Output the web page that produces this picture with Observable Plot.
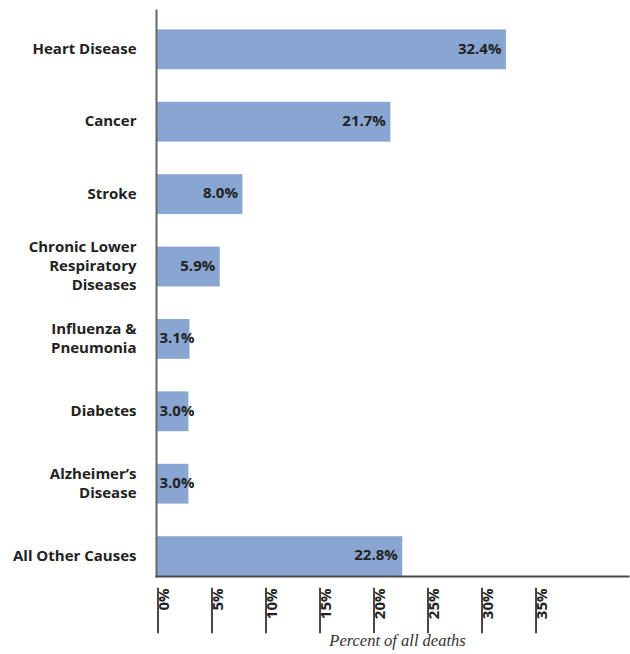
<!DOCTYPE html>
<html>
<head>
<meta charset="utf-8">
<script src="https://cdn.jsdelivr.net/npm/d3@7"></script>
<script src="https://cdn.jsdelivr.net/npm/@observablehq/plot@0.6"></script>
<style>
  html, body { margin: 0; padding: 0; background: #fff; }
  svg { display: block; }
</style>
</head>
<body>
<div id="chart"></div>
<script>
const categories = [
  "Heart Disease",
  "Cancer",
  "Stroke",
  "Chronic Lower\nRespiratory\nDiseases",
  "Influenza &\nPneumonia",
  "Diabetes",
  "Alzheimer\u2019s\nDisease",
  "All Other Causes"
];
const values = [32.4, 21.7, 8.0, 5.9, 3.1, 3.0, 3.0, 22.8];
const tickValues = [0, 5, 10, 15, 20, 25, 30, 35];
const axisTitle = "Percent of all deaths";

const data = categories.map((c, i) => ({category: c, value: values[i]}));
const fmt = v => v.toFixed(1) + "%";
const font = "'Open Sans', sans-serif";
const lineShape = {draw(context, l) { context.moveTo(0, 0); context.lineTo(0, -l); }};

const chart = Plot.plot({
  width: 630,
  height: 654,
  marginLeft: 156,
  marginRight: 2,
  marginTop: 10,
  marginBottom: 78,
  style: {fontFamily: font, background: "#fff", overflow: "visible"},
  x: {domain: [0, 43.7], axis: null},
  y: {domain: categories, paddingInner: 0.45, paddingOuter: 0.134, align: 1, round: false, axis: null},
  marks: [
    Plot.barX(data, {y: "category", x: "value", fill: "#88a6d1"}),
    Plot.frame({anchor: "left", stroke: "#666", strokeWidth: 2}),
    Plot.frame({anchor: "bottom", stroke: "#4a4a4a", strokeWidth: 2}),
    Plot.axisY({
      tickSize: 0, tickPadding: 20, fontSize: 15, fontWeight: "bold", dy: -2,
      fill: "#222", lineHeight: 1.27, label: null, fontFamily: font
    }),
    Plot.text(data.filter(d => d.value >= 4), {
      y: "category", x: "value", text: d => fmt(d.value), dy: -1,
      textAnchor: "end", dx: -5, fontSize: 15, fontWeight: "bold", fill: "#222"
    }),
    Plot.text(data.filter(d => d.value < 4), {
      y: "category", x: 0, text: d => fmt(d.value), dy: -1,
      textAnchor: "start", dx: 3, fontSize: 15, fontWeight: "bold", fill: "#222"
    }),
    Plot.vector(tickValues, {
      x: d => d, frameAnchor: "bottom", length: 44, rotate: 180, anchor: "start",
      shape: lineShape, dx: 1.5, dy: 12, stroke: "#333", strokeWidth: 1.8
    }),
    Plot.text(tickValues, {
      x: d => d, frameAnchor: "bottom", text: d => d + "%", rotate: -90,
      textAnchor: "end", dx: 12, dy: 12, fontSize: 15, fontWeight: "bold", fill: "#222"
    }),
    Plot.text([axisTitle], {
      frameAnchor: "bottom", text: d => d, dy: 69, dx: 5, fontSize: 16.5,
      fontStyle: "italic", fontFamily: "'Liberation Serif', serif", fill: "#333"
    })
  ]
});
document.getElementById("chart").appendChild(chart);
</script>
</body>
</html>
